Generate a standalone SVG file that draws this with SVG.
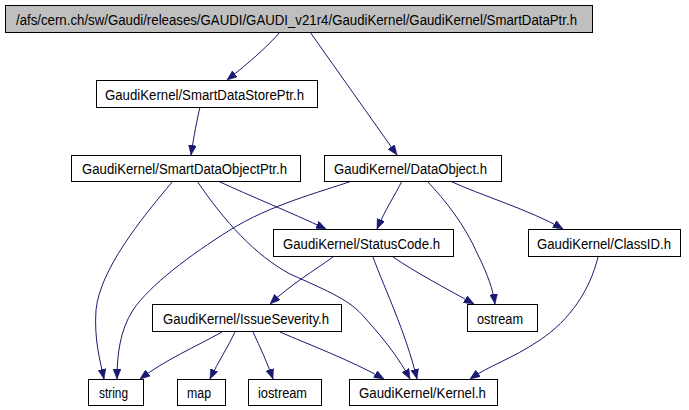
<svg xmlns="http://www.w3.org/2000/svg" width="689" height="410" viewBox="0 0 689 410">
<style>
.n rect{fill:#ffffff;stroke:#000000;stroke-width:1}
.n.root rect{fill:#bfbfbf}
.n text{font-family:"Liberation Sans",Arial,sans-serif;font-size:14px;fill:#000000}
.e path{fill:none;stroke:#191970;stroke-width:1;marker-end:url(#ah)}
</style>
<defs>
<marker id="ah" viewBox="0 0 10 8" refX="10" refY="4" markerWidth="10" markerHeight="8" markerUnits="userSpaceOnUse" orient="auto">
<path d="M0,0 L10,4 L0,8 z" fill="#191970" stroke="#191970" stroke-width="0.5"/>
</marker>
</defs>
<rect width="689" height="410" fill="#ffffff"/>
<g id="edges" class="e">
<path d="M280,32 C268,46 250,62 227,80"/>
<path d="M310,32 L397,155"/>
<path d="M200,107 C197,120 194,135 191,155"/>
<path d="M173,181 C140,220 100,270 96,310 C94,340 100,360 104,379"/>
<path d="M218,181 C250,196 290,212 326,229"/>
<path d="M197,181 C225,222 255,255 290,274 C330,292 350,300 365,318 C385,340 400,360 410,379"/>
<path d="M352,181 C320,192 270,205 230,230 C190,255 150,285 133,310 C120,330 117,355 117,379"/>
<path d="M402,181 C395,195 385,210 377,229"/>
<path d="M427,181 C445,200 465,225 478,255 C488,275 493,290 495,304"/>
<path d="M450,181 C480,195 530,210 563,229"/>
<path d="M333,257 C315,270 290,285 270,304"/>
<path d="M373,257 C385,290 405,330 417,379"/>
<path d="M393,257 C415,272 445,288 474,304"/>
<path d="M598,257 C590,290 570,320 540,340 C510,360 490,365 470,379"/>
<path d="M222,332 C195,347 165,360 140,379"/>
<path d="M235,332 C228,347 218,362 210,379"/>
<path d="M253,332 C260,347 267,362 273,379"/>
<path d="M280,332 C310,345 350,360 384,379"/>
</g>
<g id="root" class="n root"><rect x="5.5" y="5.5" width="587" height="27"/><text x="16" y="24.5" textLength="561" lengthAdjust="spacingAndGlyphs">/afs/cern.ch/sw/Gaudi/releases/GAUDI/GAUDI_v21r4/GaudiKernel/GaudiKernel/SmartDataPtr.h</text></g>
<g id="SmartDataStorePtr" class="n"><rect x="96.5" y="80.5" width="221" height="27"/><text x="105" y="99.5" textLength="199" lengthAdjust="spacingAndGlyphs">GaudiKernel/SmartDataStorePtr.h</text></g>
<g id="SmartDataObjectPtr" class="n"><rect x="71.5" y="155.5" width="229" height="26"/><text x="82" y="173.5" textLength="205" lengthAdjust="spacingAndGlyphs">GaudiKernel/SmartDataObjectPtr.h</text></g>
<g id="DataObject" class="n"><rect x="324.5" y="155.5" width="177" height="26"/><text x="334" y="173.5" textLength="153" lengthAdjust="spacingAndGlyphs">GaudiKernel/DataObject.h</text></g>
<g id="StatusCode" class="n"><rect x="273.5" y="229.5" width="180" height="27"/><text x="283" y="248.5" textLength="157" lengthAdjust="spacingAndGlyphs">GaudiKernel/StatusCode.h</text></g>
<g id="ClassID" class="n"><rect x="528.5" y="229.5" width="152" height="27"/><text x="537" y="248.5" textLength="134" lengthAdjust="spacingAndGlyphs">GaudiKernel/ClassID.h</text></g>
<g id="IssueSeverity" class="n"><rect x="152.5" y="304.5" width="189" height="27"/><text x="163" y="323.5" textLength="166" lengthAdjust="spacingAndGlyphs">GaudiKernel/IssueSeverity.h</text></g>
<g id="ostream" class="n"><rect x="467.5" y="304.5" width="70" height="27"/><text x="477" y="323.5" textLength="46" lengthAdjust="spacingAndGlyphs">ostream</text></g>
<g id="string" class="n"><rect x="88.5" y="379.5" width="55" height="26"/><text x="99" y="397.5" textLength="29" lengthAdjust="spacingAndGlyphs">string</text></g>
<g id="map" class="n"><rect x="177.5" y="379.5" width="48" height="26"/><text x="187" y="397.5" textLength="24" lengthAdjust="spacingAndGlyphs">map</text></g>
<g id="iostream" class="n"><rect x="248.5" y="379.5" width="73" height="26"/><text x="258" y="397.5" textLength="49" lengthAdjust="spacingAndGlyphs">iostream</text></g>
<g id="Kernel" class="n"><rect x="349.5" y="379.5" width="148" height="26"/><text x="359" y="397.5" textLength="127" lengthAdjust="spacingAndGlyphs">GaudiKernel/Kernel.h</text></g>
</svg>
